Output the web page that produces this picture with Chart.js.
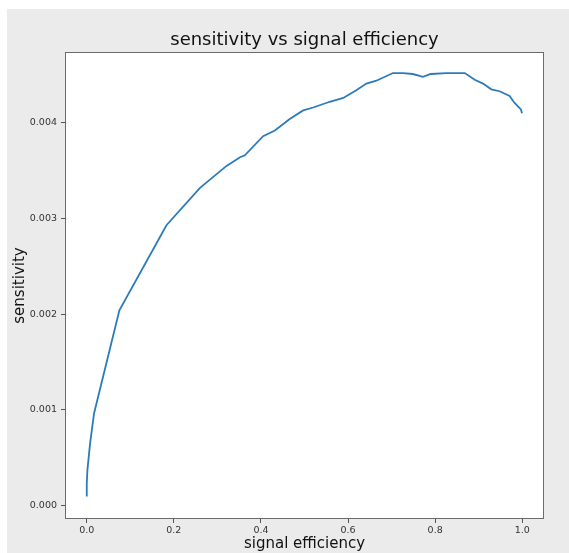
<!DOCTYPE html>
<html>
<head>
<meta charset="utf-8">
<script src="https://cdn.jsdelivr.net/npm/chart.js@4"></script>
<style>
  body { margin: 0; background: #fff; }
  canvas { display: block; }
</style>
</head>
<body>
<canvas id="sensChart" width="569" height="553"></canvas>
<script>
// values
const signalEff = [0.0, 0.0, 0.0015, 0.0076, 0.0168, 0.0749, 0.183, 0.26, 0.321, 0.352, 0.363,
  0.405, 0.432, 0.466, 0.497, 0.520, 0.558, 0.589, 0.619, 0.642, 0.665, 0.703, 0.726, 0.749,
  0.772, 0.790, 0.826, 0.849, 0.868, 0.891, 0.910, 0.929, 0.948, 0.971, 0.982, 0.997, 0.9995];
const sensitivity = [0.000094, 0.000234, 0.000373, 0.00065, 0.000965, 0.00204, 0.00293, 0.00332,
  0.00355, 0.00364, 0.00366, 0.00386, 0.00392, 0.00404, 0.00413, 0.00416, 0.00422, 0.00426,
  0.00434, 0.00441, 0.00444, 0.00452, 0.00452, 0.00451, 0.00448, 0.00451, 0.00452, 0.00452,
  0.00452, 0.00445, 0.00441, 0.00435, 0.00433, 0.00428, 0.00421, 0.00414, 0.0041];
const xTicks = [0.0, 0.2, 0.4, 0.6, 0.8, 1.0];
const yTicks = [0.000, 0.001, 0.002, 0.003, 0.004];

const font = "'DejaVu Sans', sans-serif";

// grey figure background, white axes, box spines
const figureBg = {
  id: "figureBg",
  beforeDraw(chart) {
    const { ctx, width, height, chartArea: a } = chart;
    ctx.save();
    ctx.fillStyle = "#ffffff";
    ctx.fillRect(0, 0, width, height);
    ctx.fillStyle = "#ebebeb";
    ctx.fillRect(7, 9, width - 7, height - 9);
    ctx.fillStyle = "#ffffff";
    ctx.fillRect(a.left, a.top, a.right - a.left, a.bottom - a.top);
    ctx.restore();
  },
  afterDraw(chart) {
    const { ctx, chartArea: a } = chart;
    ctx.save();
    ctx.strokeStyle = "#6b6b6b";
    ctx.lineWidth = 1;
    ctx.strokeRect(a.left + 0.5, a.top + 0.5, a.right - a.left - 1, a.bottom - a.top - 1);
    ctx.restore();
  },
};

new Chart(document.getElementById("sensChart"), {
  type: "scatter",
  data: {
    datasets: [
      {
        data: signalEff.map((x, i) => ({ x: x, y: sensitivity[i] })),
        showLine: true,
        borderColor: "#2b7bba",
        borderWidth: 1.8,
        pointRadius: 0,
        tension: 0,
      },
    ],
  },
  options: {
    responsive: false,
    animation: false,
    layout: { padding: { left: 0, right: 25, top: 0, bottom: 0 } },
    plugins: {
      legend: { display: false },
      tooltip: { enabled: false },
      title: {
        display: true,
        text: "sensitivity vs signal efficiency",
        fullSize: false,
        color: "#111",
        font: { family: font, size: 18, weight: "normal" },
        padding: { top: 30, bottom: 0.4 },
      },
    },
    scales: {
      x: {
        type: "linear",
        min: -0.05,
        max: 1.05,
        afterBuildTicks: (s) => { s.ticks = xTicks.map((v) => ({ value: v })); },
        afterFit: (s) => { s.height = 34; },
        border: { display: false },
        grid: { drawOnChartArea: false, drawTicks: true, tickLength: 4, tickColor: "#555" },
        ticks: {
          color: "#333",
          padding: 2,
          maxRotation: 0,
          font: { family: font, size: 9.5 },
          callback: (v) => v.toFixed(1),
        },
        title: {
          display: true,
          text: "signal efficiency",
          color: "#111",
          font: { family: font, size: 15 },
          padding: { top: 0, bottom: 0 },
        },
      },
      y: {
        type: "linear",
        min: -0.00014,
        max: 0.00474,
        afterBuildTicks: (s) => { s.ticks = yTicks.map((v) => ({ value: v })); },
        afterFit: (s) => { s.width = 65; },
        border: { display: false },
        grid: { drawOnChartArea: false, drawTicks: true, tickLength: 4, tickColor: "#555" },
        ticks: {
          color: "#333",
          padding: 4,
          font: { family: font, size: 9.5 },
          callback: (v) => v.toFixed(3),
        },
        title: {
          display: true,
          text: "sensitivity",
          color: "#111",
          font: { family: font, size: 15 },
          padding: { top: 11, bottom: 0 },
        },
      },
    },
  },
  plugins: [figureBg],
});
</script>
</body>
</html>
